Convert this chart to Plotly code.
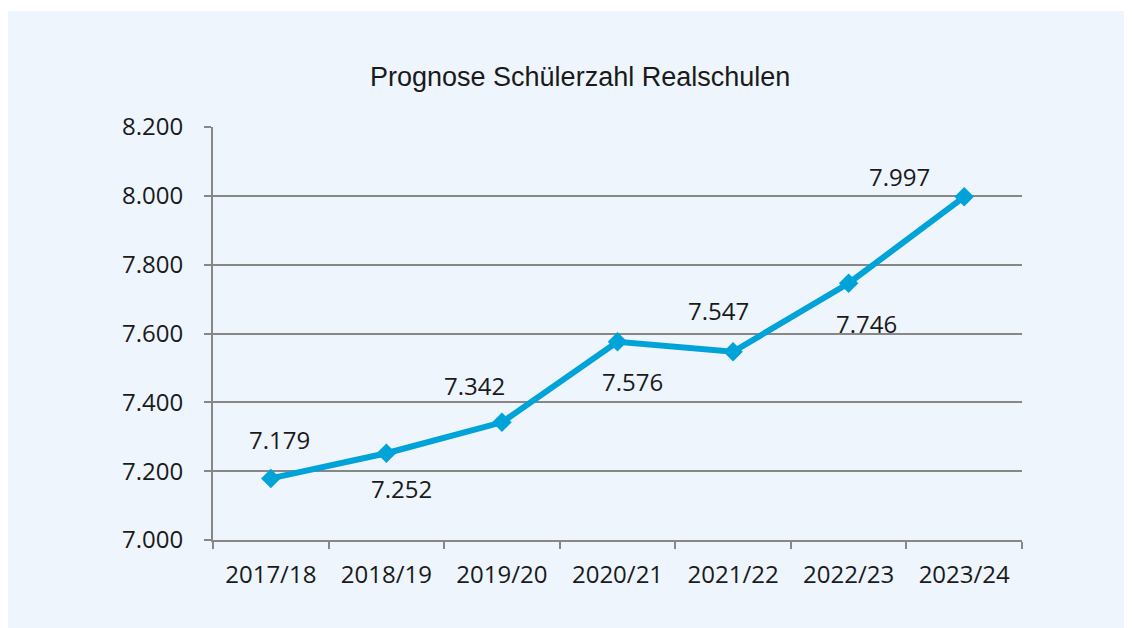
import plotly.graph_objects as go

categories = ["2017/18", "2018/19", "2019/20", "2020/21", "2021/22", "2022/23", "2023/24"]
values = [7179, 7252, 7342, 7576, 7547, 7746, 7997]
y_ticks = [7000, 7200, 7400, 7600, 7800, 8000, 8200]
title_text = "Prognose Schülerzahl Realschulen"

# label offsets (pixels) for each data label, matching the reference placement
label_shift = [(9, 39), (15, -35), (-27, 37), (15, -40), (-15, 41), (18, -40), (-65, 20)]

LINE = "#00A3D8"
BG = "#EEF5FD"
GRID = "#878787"
TXT = "#1a1a1a"
FONT = "Open Sans"

W, H = 1150, 640
L, T = 205, 119
PW, PH = 809, 413
R, B = W - L - PW, H - T - PH

fig = go.Figure()
fig.add_trace(go.Scatter(
    x=categories, y=values, mode="lines+markers",
    line=dict(color=LINE, width=6),
    marker=dict(symbol="diamond", size=15, color=LINE, line=dict(width=0)),
    hoverinfo="skip", showlegend=False,
))

annotations = []
for c, v, (dx, dy) in zip(categories, values, label_shift):
    annotations.append(dict(
        x=c, y=v, xref="x", yref="y", text=f"{v:,}".replace(",", "."),
        showarrow=False, xshift=dx, yshift=dy,
        font=dict(family=FONT, size=24, color=TXT),
    ))
annotations.append(dict(
    x=(572 - L) / PW, y=1 + (T - 69) / PH, xref="paper", yref="paper", text=title_text,
    showarrow=False, xanchor="center", yanchor="middle",
    font=dict(family="Liberation Sans, Arial", size=27, color=TXT),
))

fig.update_layout(
    width=W, height=H,
    margin=dict(l=L, r=R, t=T, b=B),
    paper_bgcolor=BG, plot_bgcolor=BG,
    separators=",.",
    annotations=annotations,
    shapes=[
        dict(type="rect", xref="paper", yref="paper", x0=-1, x1=2, y0=1 + (T - 3) / PH, y1=2,
             fillcolor="white", line=dict(width=0), layer="below"),
    ],
    xaxis=dict(
        type="category", range=[-0.5, 6.5], tickson="boundaries",
        ticks="outside", ticklen=7, tickwidth=2, tickcolor=GRID,
        showline=True, linecolor=GRID, linewidth=2, showgrid=False,
        tickfont=dict(family=FONT, size=24, color=TXT), ticklabelstandoff=12,
        fixedrange=True,
    ),
    yaxis=dict(
        range=[7000, 8200], tickvals=y_ticks, tickformat=",d", separatethousands=True,
        ticks="outside", ticklen=7, tickwidth=2, tickcolor=GRID,
        showline=True, linecolor=GRID, linewidth=2,
        showgrid=True, gridcolor=GRID, gridwidth=1.5, zeroline=False,
        tickfont=dict(family=FONT, size=24, color=TXT), ticklabelstandoff=16,
        fixedrange=True,
    ),
)

fig.write_html("out.html")
